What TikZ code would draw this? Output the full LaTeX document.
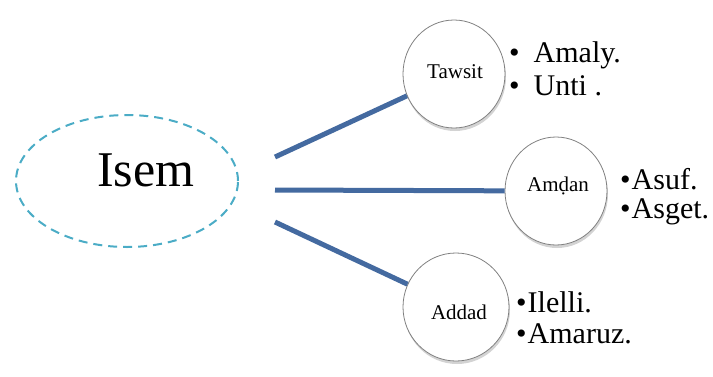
\documentclass[tikz,border=0pt]{standalone}
\usepackage{fontspec}
\setmainfont{Liberation Serif}
\usetikzlibrary{shapes.geometric,shadows}
\definecolor{linkblue}{RGB}{68,106,160}
\definecolor{dashcyan}{RGB}{75,172,198}
\tikzset{
  bubble/.style={ellipse,draw=black!50,line width=0.8pt,fill=white,minimum width=102pt,minimum height=108pt,inner sep=0pt,drop shadow={shadow xshift=1pt,shadow yshift=-3pt,opacity=0.35}},
  bubbletext/.style={anchor=base,inner sep=0pt,font=\fontsize{21}{21}\selectfont},
  link/.style={draw=linkblue,line width=5pt},
  item/.style={anchor=base west,inner sep=0pt,font=\fontsize{30}{30}\selectfont},
}
\begin{document}
\begin{tikzpicture}[x=1pt,y=-1pt]
\useasboundingbox (0,0) rectangle (713,376);
\node[ellipse,draw=dashcyan,line width=2pt,dash pattern=on 9pt off 6pt,minimum width=222pt,minimum height=132pt,inner sep=0pt] (isem) at (127,181) {};
\node[font=\fontsize{50}{50}\selectfont,inner sep=0pt,anchor=base west] (isemt) at (97,186) {Isem};
\node[bubble] (tawsit) at (454,74) {};
\node[bubble] (amdan) at (556,191) {};
\node[bubble,minimum width=106pt] (addad) at (456,307) {};
\node[bubbletext] (tawsitt) at (455,78) {Tawsit};
\node[bubbletext] (amdant) at (558,191) {Amḍan};
\node[bubbletext] (addadt) at (459,319) {Addad};
\coordinate (s1) at (275,157);
\coordinate (s2) at (275,190);
\coordinate (s3) at (275,222);
\draw[link] (s1) -- (tawsit);
\draw[link] (s2) -- (amdan);
\draw[link] (s3) -- (addad);
\node[item] (t1) at (509,62) {\textbullet\hspace{14pt}Amaly.};
\node[item] (t2) at (509,95) {\textbullet\hspace{14pt}Unti .};
\node[item] (a1) at (620,189) {\textbullet\hspace{1pt}Asuf.};
\node[item] (a2) at (620,218) {\textbullet\hspace{1pt}Asget.};
\node[item] (d1) at (516,312) {\textbullet\hspace{1pt}Ilelli.};
\node[item] (d2) at (516,343) {\textbullet\hspace{1pt}Amaruz.};
\end{tikzpicture}
\end{document}
